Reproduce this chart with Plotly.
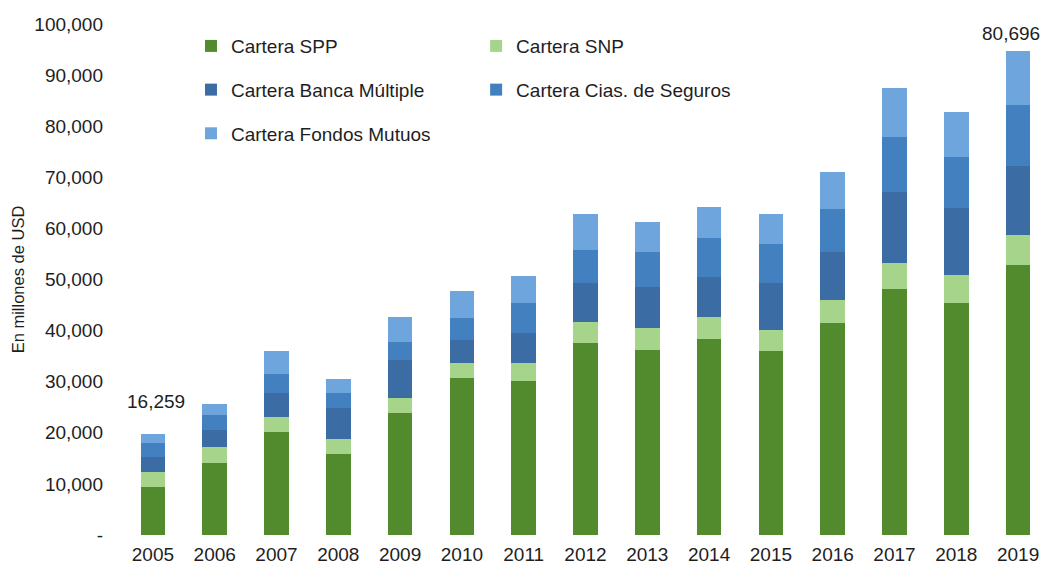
import plotly.graph_objects as go

years = ["2005", "2006", "2007", "2008", "2009", "2010", "2011", "2012",
         "2013", "2014", "2015", "2016", "2017", "2018", "2019"]

cartera_spp = [9.4, 14.1, 20.2, 15.9, 23.9, 30.7, 30.1, 37.6, 36.2, 38.4, 36.0, 41.5, 48.1, 45.4, 52.8]
cartera_snp = [2.9, 3.1, 2.9, 2.9, 2.9, 3.0, 3.6, 4.1, 4.3, 4.3, 4.1, 4.5, 5.1, 5.5, 5.9]
cartera_banca = [3.0, 3.3, 4.7, 6.1, 7.4, 4.5, 5.8, 7.6, 8.0, 7.8, 9.2, 9.4, 13.9, 13.1, 13.5]
cartera_seguros = [2.7, 3.0, 3.7, 2.9, 3.6, 4.3, 5.9, 6.5, 6.9, 7.6, 7.6, 8.4, 10.8, 10.0, 11.9]
cartera_fondos = [1.8, 2.1, 4.5, 2.7, 4.9, 5.2, 5.3, 7.0, 5.9, 6.1, 5.9, 7.2, 9.6, 8.8, 10.6]

# values above are in thousands of millions of USD -> convert to millions
def scale(v):
    return [x * 1000 for x in v]

series_names = ["Cartera SPP", "Cartera SNP", "Cartera Banca Múltiple",
                "Cartera Cias. de Seguros", "Cartera Fondos Mutuos"]
series_values = [cartera_spp, cartera_snp, cartera_banca, cartera_seguros, cartera_fondos]
series_colors = ["#528a2e", "#a6d48a", "#3b6ca3", "#4280c0", "#6ea5dc"]
series_legend = ["legend", "legend2", "legend", "legend2", "legend"]

y_tick_vals = [0, 10000, 20000, 30000, 40000, 50000, 60000, 70000, 80000, 90000, 100000]
y_tick_text = ["-", "10,000", "20,000", "30,000", "40,000", "50,000", "60,000",
               "70,000", "80,000", "90,000", "100,000"]

label_years = ["2005", "2019"]
label_texts = ["16,259", "80,696"]

FONT = "Liberation Sans, Arial, sans-serif"
TXT = "#1e1e1e"
FS = 19

fig = go.Figure()
for i, (name, vals, col, lg) in enumerate(zip(series_names, series_values, series_colors, series_legend)):
    fig.add_trace(go.Bar(
        x=years, y=scale(vals), name=name,
        marker=dict(color=col, line=dict(width=0)),
        legend=lg, legendgroup=name,
        hoverinfo="x+y+name",
    ))

totals = [sum(s[k] for s in series_values) * 1000 for k in range(len(years))]
label_shifts = [32, 18]
label_xshifts = [3, -7]
for yr, txt, ys, xs in zip(label_years, label_texts, label_shifts, label_xshifts):
    idx = years.index(yr)
    fig.add_annotation(x=idx, y=totals[idx], text=txt, showarrow=False,
                       xref="x", yref="y",
                       yanchor="middle", yshift=ys, xshift=xs,
                       font=dict(family=FONT, size=FS, color=TXT))

legend_common = dict(xanchor="left", yanchor="top", orientation="v",
                     traceorder="grouped", tracegroupgap=16,
                     font=dict(family=FONT, size=FS, color=TXT),
                     bgcolor="rgba(0,0,0,0)", itemclick=False, itemdoubleclick=False)

fig.update_layout(
    width=1052, height=566,
    margin=dict(l=122, r=3, t=24, b=31, autoexpand=False),
    paper_bgcolor="white", plot_bgcolor="white",
    barmode="stack", bargap=0.6,
    font=dict(family=FONT, size=FS, color=TXT),
    showlegend=True,
    legend=dict(x=0.0744, y=0.994, **legend_common),
    legend2=dict(x=0.382, y=0.994, **legend_common),
    xaxis=dict(type="category", range=[-0.5, len(years) - 0.5],
               showgrid=False, showline=False, ticks="",
               ticklabelstandoff=6,
               tickfont=dict(family=FONT, size=FS, color=TXT)),
    yaxis=dict(range=[0, 100000], tickvals=y_tick_vals, ticktext=y_tick_text,
               showgrid=False, showline=False, zeroline=False, ticks="",
               ticklabelstandoff=18,
               tickfont=dict(family=FONT, size=FS, color=TXT),
               title=dict(text="En millones de USD", standoff=5,
                          font=dict(family=FONT, size=16.5, color=TXT))),
)

fig.write_html("out.html",
               config={"displayModeBar": False},
               post_script="document.body.style.margin='0';document.body.style.padding='0';")
